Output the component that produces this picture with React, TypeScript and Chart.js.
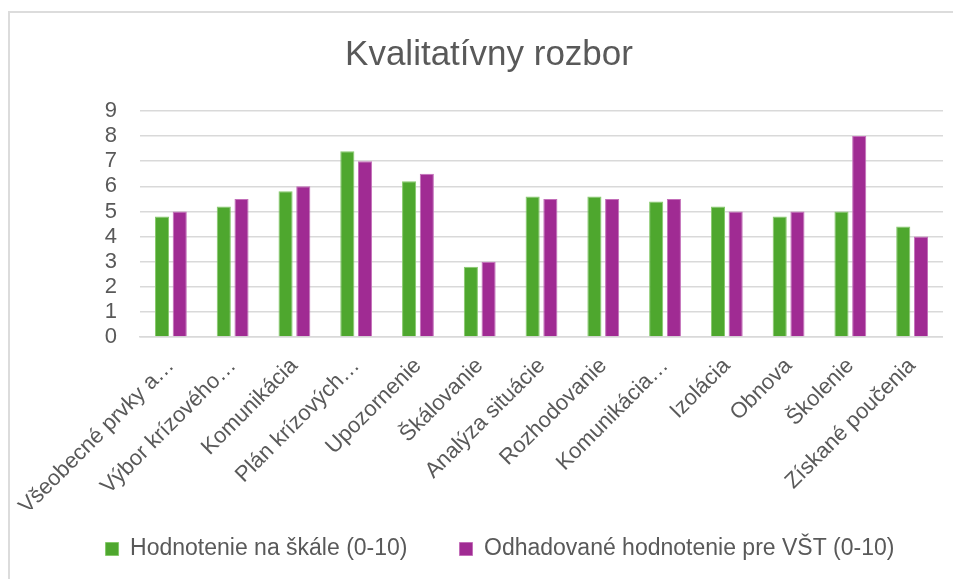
import React, { useEffect, useRef } from "react";
import { Chart, registerables } from "chart.js";

Chart.register(...registerables);

const categories = [
  "Všeobecné prvky a…",
  "Výbor krízového…",
  "Komunikácia",
  "Plán krízových…",
  "Upozornenie",
  "Škálovanie",
  "Analýza situácie",
  "Rozhodovanie",
  "Komunikácia…",
  "Izolácia",
  "Obnova",
  "Školenie",
  "Získané poučenia",
];

const scaleRatings = [4.8, 5.2, 5.8, 7.4, 6.2, 2.8, 5.6, 5.6, 5.4, 5.2, 4.8, 5.0, 4.4];
const vstRatings = [5.0, 5.5, 6.0, 7.0, 6.5, 3.0, 5.5, 5.5, 5.5, 5.0, 5.0, 8.0, 4.0];

const seriesNames = ["Hodnotenie na škále (0-10)", "Odhadované hodnotenie pre VŠT (0-10)"];
const chartTitle = "Kvalitatívny rozbor";

const FONT = "'Liberation Sans', Arial, sans-serif";
const TEXT = "#595959";

// Move the legend a little right and up (it may overlap the x-axis box, which is harmless).
const legendShift = {
  id: "legendShift",
  afterLayout(chart: any) {
    const l = chart.legend;
    if (l) {
      l.left += 11;
      l.right += 11;
      l.top -= 23.5;
    }
  },
};

export default function App() {
  const ref = useRef<HTMLCanvasElement | null>(null);

  useEffect(() => {
    if (!ref.current) return;
    const chart = new Chart(ref.current, {
      type: "bar",
      data: {
        labels: categories,
        datasets: [
          {
            label: seriesNames[0],
            data: scaleRatings,
            backgroundColor: "#4EA72E",
            borderColor: "#86c96b",
            borderWidth: 1,
            categoryPercentage: 0.574,
            barPercentage: 0.796,
          },
          {
            label: seriesNames[1],
            data: vstRatings,
            backgroundColor: "#A02B93",
            borderColor: "#c36fb9",
            borderWidth: 1,
            categoryPercentage: 0.574,
            barPercentage: 0.796,
          },
        ],
      },
      plugins: [legendShift],
      options: {
        responsive: false,
        animation: false,
        devicePixelRatio: 1,
        layout: { padding: { left: 35, right: 0, top: 0, bottom: 0 } },
        plugins: {
          title: {
            display: true,
            text: chartTitle,
            color: TEXT,
            font: { family: FONT, size: 35, weight: "normal" },
            padding: { top: 34, bottom: 35 },
          },
          legend: {
            position: "bottom",
            maxHeight: 70,
            labels: {
              color: TEXT,
              font: { family: FONT, size: 23 },
              boxWidth: 13,
              boxHeight: 13,
              padding: 52,
            },
          },
          tooltip: { enabled: false },
        },
        scales: {
          x: {
            grid: { display: false },
            border: { display: true, color: "#d9d9d9", width: 1.5 },
            ticks: {
              color: TEXT,
              font: { family: FONT, size: 22 },
              autoSkip: false,
              maxRotation: 45,
              minRotation: 45,
              padding: 8,
            },
            afterFit: (s: any) => {
              s.height = 172;
            },
          },
          y: {
            min: 0,
            max: 9,
            ticks: {
              stepSize: 1,
              autoSkip: false,
              color: TEXT,
              font: { family: FONT, size: 22 },
              padding: 23,
            },
            grid: { color: "#d9d9d9", lineWidth: 1.5, drawTicks: false },
            border: { display: false },
            afterFit: (s: any) => {
              s.width = 105;
            },
          },
        },
      },
    });
    return () => chart.destroy();
  }, []);

  return (
    <div style={{ position: "fixed", left: 0, top: 0, width: 953, height: 579, overflow: "hidden", background: "#fff" }}>
      <div
        style={{
          position: "absolute",
          left: 8,
          top: 11,
          width: 2000,
          height: 2000,
          borderTop: "2px solid #dcdcdc",
          borderLeft: "2px solid #dcdcdc",
        }}
      />
      <canvas ref={ref} width={943} height={579} style={{ position: "absolute", left: 0, top: 0 }} />
    </div>
  );
}
